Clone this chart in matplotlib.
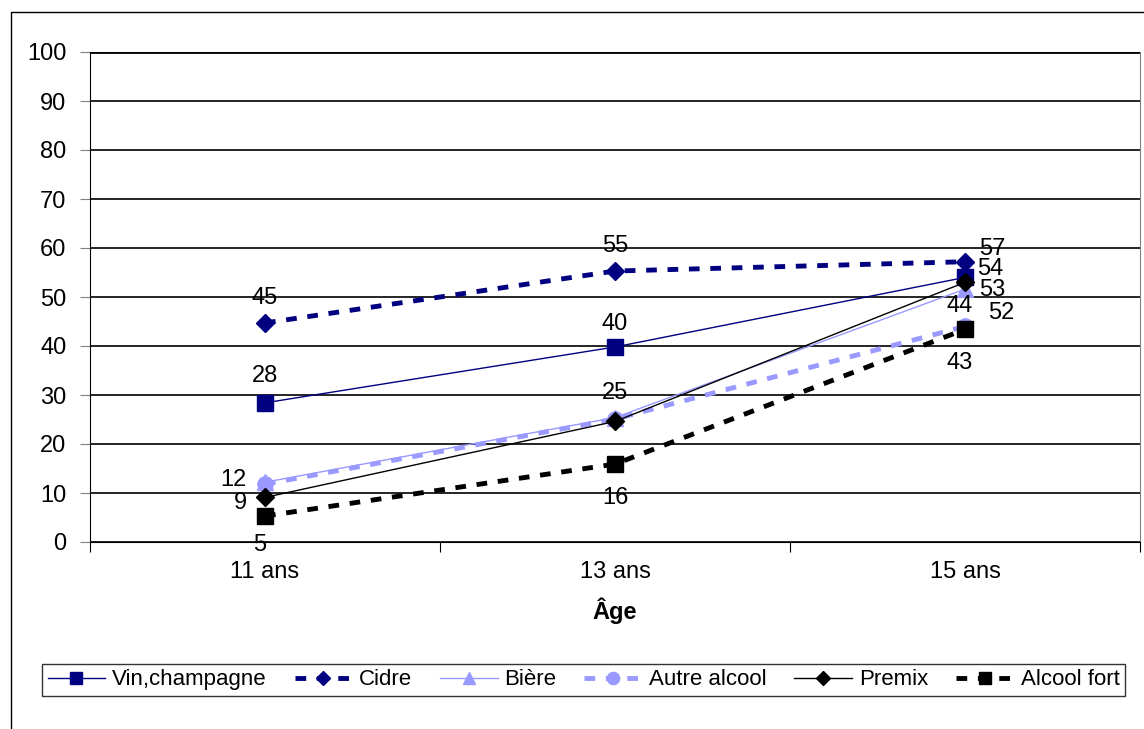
import matplotlib
matplotlib.use("Agg")
import matplotlib.pyplot as plt
from matplotlib.patches import Rectangle
from matplotlib import font_manager

names = {f.name for f in font_manager.fontManager.ttflist}
FAM = ['Liberation Sans Narrow'] if 'Liberation Sans Narrow' in names else ['Liberation Sans']
plt.rcParams['font.family'] = FAM + ['DejaVu Sans']

categories = ["11 ans", "13 ans", "15 ans"]
series_names = ["Vin,champagne", "Cidre", "Bière", "Autre alcool", "Premix", "Alcool fort"]
vin = [28.4, 39.8, 54.0]
cidre = [44.7, 55.3, 57.2]
biere = [12.2, 25.4, 51.6]
autre = [11.8, 25.1, 44.0]
premix = [9.1, 24.6, 53.0]
alcool_fort = [5.3, 15.9, 43.4]
values = [vin, cidre, biere, autre, premix, alcool_fort]
yticks = list(range(0, 101, 10))

NAVY = "#000080"
LIGHT = "#9999FF"
styles = [
    dict(color=NAVY, lw=1.0, ls="-", marker="s", ms=11),
    dict(color=NAVY, lw=3.5, ls=(0, (2.2, 2.2)), marker="D", ms=9),
    dict(color=LIGHT, lw=1.0, ls="-", marker="^", ms=11),
    dict(color=LIGHT, lw=3.5, ls=(0, (2.2, 2.2)), marker="o", ms=11),
    dict(color="black", lw=1.0, ls="-", marker="D", ms=9),
    dict(color="black", lw=3.5, ls=(0, (2.2, 2.2)), marker="s", ms=11),
]
# label offsets in pixels (dx, dy) per series per point; None = hidden (overlapped)
offsets = [
    [(0, 27), (0, 23), (25, 8)],
    [(0, 25), (0, 25), (27, 13)],
    [(-32, 2), (0, 25), (36, -24)],
    [None, None, (-5, 20)],
    [(-25, -6), None, (27, -8)],
    [(-5, -29), (0, -34), (-5, -34)],
]

W, H = 1144, 729
fig = plt.figure(figsize=(W / 100, H / 100), dpi=100)
fig.patches.append(Rectangle((11 / W, -0.1), 1.2, 1.1 - 12 / H, transform=fig.transFigure,
                             fill=False, edgecolor="black", lw=1.0, zorder=0))

ax = fig.add_axes([90 / W, 1 - 542 / H, 1050 / W, 490 / H])
FS = 17
x = list(range(len(categories)))
handles = []
for name, vals, st in zip(series_names, values, styles):
    h, = ax.plot(x, vals, color=st["color"], lw=st["lw"], ls=st["ls"], marker=st["marker"],
                 ms=st["ms"], mfc=st["color"], mec=st["color"], label=name, zorder=3,
                 clip_on=False)
    handles.append(h)

for vals, offs in zip(values, offsets):
    for xi, v, off in zip(x, vals, offs):
        if off is None:
            continue
        ax.annotate(f"{round(v):d}", (xi, v), xytext=(off[0], off[1]), textcoords="offset pixels",
                    ha="center", va="center", fontsize=FS, zorder=5)

ax.set_xlim(-0.5, 2.5)
ax.set_ylim(0, 100)
ax.set_yticks(yticks)
ax.set_yticklabels([str(t) for t in yticks], fontsize=FS)
ax.yaxis.grid(True, color="black", lw=1.2)
ax.set_axisbelow(True)
ax.set_xticks([-0.5, 0.5, 1.5, 2.5])
ax.set_xticklabels([])
ax.set_xticks(x, minor=True)
ax.set_xticklabels(categories, minor=True, fontsize=FS)
ax.tick_params(axis="x", which="minor", length=0, pad=14)
ax.tick_params(axis="x", which="major", length=7, color="black", direction="out")
ax.tick_params(axis="y", length=7, color="gray", direction="out", pad=10)
ax.set_xlabel("Âge", fontsize=FS, fontweight="bold", labelpad=10)
ax.spines["top"].set_visible(False)
ax.spines["right"].set_color("gray")
ax.spines["left"].set_color("black")
ax.spines["bottom"].set_color("black")
ax.axhline(100, color="black", lw=2, zorder=2)

leg = fig.legend(handles=handles, loc="lower left", ncol=6,
                 bbox_to_anchor=(42 / W, 1 - 696 / H, (1125 - 42) / W, 37 / H), mode="expand",
                 fontsize=16, frameon=True, fancybox=False, edgecolor="black",
                 handlelength=2.6, handletextpad=0.3, columnspacing=1.0, borderpad=0.25,
                 borderaxespad=0, markerscale=0.8)
leg.get_frame().set_linewidth(1.0)

fig.savefig("out.png", dpi=100)
